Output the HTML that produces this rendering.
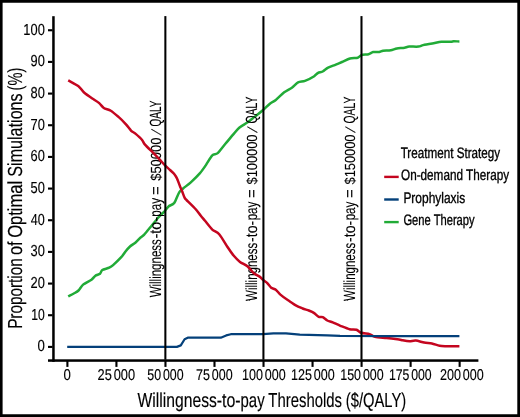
<!DOCTYPE html>
<html><head><meta charset="utf-8"><title>Proportion of Optimal Simulations</title>
<style>
html,body{margin:0;padding:0;background:#fff;overflow:hidden;}
svg{display:block;}
.t{text-rendering:geometricPrecision;font-family:"Liberation Sans",sans-serif;fill:#000;stroke:#000;}
</style></head><body>
<svg width="520" height="417" viewBox="0 0 520 417">
<rect x="0" y="0" width="520" height="417" fill="#fff"/>
<g id="gfx">
<path d="M68.2 296.3 C68.9 295.9 72.4 294.3 73.8 293.5 C75.2 292.7 77.3 291.7 78.5 290.5 C79.7 289.3 81.4 286.0 83.1 284.6 C84.8 283.2 89.9 280.9 91.5 279.7 C93.1 278.5 94.3 276.5 95.4 275.7 C96.5 274.9 99.1 274.6 100.0 273.8 C100.9 273.0 101.1 270.8 102.3 270.0 C103.5 269.2 107.8 268.4 109.2 267.7 C110.6 267.0 111.5 266.5 113.1 265.1 C114.7 263.7 119.8 258.7 121.5 256.9 C123.2 255.1 124.4 252.9 125.5 251.5 C126.6 250.1 128.7 247.7 130.0 246.5 C131.3 245.3 134.2 243.7 135.6 242.5 C137.0 241.3 139.3 238.8 140.4 237.7 C141.5 236.6 142.8 236.1 144.2 234.6 C145.6 233.1 149.3 228.5 151.2 226.2 C153.1 223.9 156.3 219.8 158.1 217.7 C159.9 215.6 163.6 212.3 165.0 210.8 C166.4 209.3 167.6 207.2 168.8 206.2 C170.0 205.2 172.8 205.0 174.2 203.1 C175.6 201.2 178.0 194.2 179.2 192.3 C180.4 190.4 181.6 189.8 183.1 188.5 C184.6 187.2 188.5 184.4 190.8 182.3 C193.1 180.2 197.9 175.5 200.0 173.1 C202.1 170.7 204.6 167.0 206.2 164.6 C207.8 162.2 210.8 156.9 212.3 155.4 C213.8 153.9 216.0 154.6 217.7 153.1 C219.4 151.6 223.3 146.3 225.4 143.8 C227.5 141.3 231.3 136.7 233.1 134.6 C234.9 132.5 237.3 129.3 239.2 127.7 C241.1 126.1 245.5 123.8 247.7 122.3 C249.9 120.8 253.3 117.8 255.4 116.2 C257.5 114.6 261.1 111.7 263.1 110.0 C265.1 108.3 268.5 104.7 270.2 103.4 C271.9 102.1 273.9 101.5 275.8 100.0 C277.7 98.5 282.1 93.9 284.2 92.3 C286.3 90.7 290.0 89.0 291.9 87.7 C293.8 86.4 296.4 83.2 298.1 82.3 C299.8 81.4 302.9 81.6 305.0 80.8 C307.1 80.0 312.5 77.3 314.2 76.2 C315.9 75.1 317.0 73.4 318.1 72.8 C319.2 72.2 321.4 72.2 322.7 71.5 C324.0 70.8 326.4 68.6 328.1 67.7 C329.8 66.8 333.9 65.4 335.8 64.6 C337.7 63.8 340.1 62.8 342.0 62.0 C343.9 61.2 347.9 59.1 350.0 58.5 C352.1 57.9 356.2 58.2 357.7 57.7 C359.2 57.2 360.1 55.6 361.5 55.1 C362.9 54.6 367.0 54.6 368.5 54.2 C370.0 53.8 371.7 52.3 373.1 52.0 C374.5 51.7 377.9 52.2 379.2 52.0 C380.5 51.8 381.6 51.0 383.1 50.8 C384.6 50.6 389.0 50.6 390.8 50.3 C392.6 50.0 395.1 48.8 396.9 48.5 C398.7 48.2 403.0 48.0 404.6 47.7 C406.2 47.4 407.3 46.7 409.2 46.6 C411.1 46.5 416.6 46.8 418.5 46.6 C420.4 46.4 421.3 45.5 423.1 45.1 C424.9 44.7 429.8 43.9 432.3 43.5 C434.8 43.1 439.0 42.0 441.5 41.8 C444.0 41.6 449.2 41.9 450.8 41.8 C452.4 41.7 452.7 41.2 453.8 41.2 C454.9 41.2 458.7 41.5 459.4 41.5" fill="none" stroke="#21ab37" stroke-width="2.50" stroke-linejoin="round" stroke-linecap="butt"/>
</g>
<text id="an0a" class="t" transform="translate(160.50 297.35) rotate(-90)" x="0" y="0" font-size="16.2" textLength="58.12" lengthAdjust="spacingAndGlyphs" stroke-width="0.1">Willingness</text>
<text id="an0b" class="t" transform="translate(160.50 238.45) rotate(-90)" x="0" y="0" font-size="16.2" textLength="21.45" lengthAdjust="spacingAndGlyphs" stroke-width="0.1">-to-</text>
<text id="an0c" class="t" transform="translate(160.50 216.75) rotate(-90)" x="0" y="0" font-size="16.2" textLength="18.74" lengthAdjust="spacingAndGlyphs" stroke-width="0.1">pay</text>
<text id="an0d" class="t" transform="translate(160.50 194.88) rotate(-90)" x="0" y="0" font-size="16.2" textLength="8.68" lengthAdjust="spacingAndGlyphs" stroke-width="0.1">=</text>
<text id="an0e" class="t" transform="translate(160.50 180.85) rotate(-90)" x="0" y="0" font-size="14.6" textLength="43.36" lengthAdjust="spacingAndGlyphs" stroke-width="0.1">$50000</text>
<text id="an0f" class="t" transform="translate(160.50 135.17) rotate(-90) skewX(-22)" x="0" y="0" font-size="13" textLength="2.36" lengthAdjust="spacingAndGlyphs" stroke-width="0.35">/</text>
<text id="an0g" class="t" transform="translate(160.50 126.50) rotate(-90)" x="0" y="0" font-size="16.2" textLength="25.97" lengthAdjust="spacingAndGlyphs" stroke-width="0.1">QALY</text>
<text id="an1a" class="t" transform="translate(257.40 300.90) rotate(-90)" x="0" y="0" font-size="16.2" textLength="58.11" lengthAdjust="spacingAndGlyphs" stroke-width="0.1">Willingness</text>
<text id="an1b" class="t" transform="translate(257.40 242.00) rotate(-90)" x="0" y="0" font-size="16.2" textLength="21.19" lengthAdjust="spacingAndGlyphs" stroke-width="0.1">-to-</text>
<text id="an1c" class="t" transform="translate(257.40 220.30) rotate(-90)" x="0" y="0" font-size="16.2" textLength="18.51" lengthAdjust="spacingAndGlyphs" stroke-width="0.1">pay</text>
<text id="an1d" class="t" transform="translate(257.40 197.88) rotate(-90)" x="0" y="0" font-size="16.2" textLength="8.68" lengthAdjust="spacingAndGlyphs" stroke-width="0.1">=</text>
<text id="an1e" class="t" transform="translate(257.40 184.50) rotate(-90)" x="0" y="0" font-size="14.6" textLength="49.92" lengthAdjust="spacingAndGlyphs" stroke-width="0.1">$100000</text>
<text id="an1f" class="t" transform="translate(257.40 132.85) rotate(-90) skewX(-22)" x="0" y="0" font-size="13" textLength="2.46" lengthAdjust="spacingAndGlyphs" stroke-width="0.35">/</text>
<text id="an1g" class="t" transform="translate(257.40 123.50) rotate(-90)" x="0" y="0" font-size="16.2" textLength="26.87" lengthAdjust="spacingAndGlyphs" stroke-width="0.1">QALY</text>
<text id="an2a" class="t" transform="translate(355.40 300.90) rotate(-90)" x="0" y="0" font-size="16.2" textLength="58.11" lengthAdjust="spacingAndGlyphs" stroke-width="0.1">Willingness</text>
<text id="an2b" class="t" transform="translate(355.40 242.00) rotate(-90)" x="0" y="0" font-size="16.2" textLength="21.19" lengthAdjust="spacingAndGlyphs" stroke-width="0.1">-to-</text>
<text id="an2c" class="t" transform="translate(355.40 220.30) rotate(-90)" x="0" y="0" font-size="16.2" textLength="18.51" lengthAdjust="spacingAndGlyphs" stroke-width="0.1">pay</text>
<text id="an2d" class="t" transform="translate(355.40 197.88) rotate(-90)" x="0" y="0" font-size="16.2" textLength="8.68" lengthAdjust="spacingAndGlyphs" stroke-width="0.1">=</text>
<text id="an2e" class="t" transform="translate(355.40 184.50) rotate(-90)" x="0" y="0" font-size="14.6" textLength="49.92" lengthAdjust="spacingAndGlyphs" stroke-width="0.1">$150000</text>
<text id="an2f" class="t" transform="translate(355.40 132.85) rotate(-90) skewX(-22)" x="0" y="0" font-size="13" textLength="2.46" lengthAdjust="spacingAndGlyphs" stroke-width="0.35">/</text>
<text id="an2g" class="t" transform="translate(355.40 123.50) rotate(-90)" x="0" y="0" font-size="16.2" textLength="26.77" lengthAdjust="spacingAndGlyphs" stroke-width="0.1">QALY</text>
<g id="gfx2">
<path d="M68.2 80.3 C69.6 81.1 76.4 84.6 78.5 86.2 C80.6 87.8 82.0 90.7 83.8 92.3 C85.6 93.9 90.2 97.1 92.3 98.5 C94.4 99.9 97.7 101.8 99.2 103.1 C100.7 104.4 102.3 107.0 103.8 108.0 C105.3 109.0 108.8 109.6 110.8 110.8 C112.8 112.0 116.4 115.1 118.5 116.9 C120.6 118.7 124.5 122.7 126.2 124.6 C127.9 126.5 130.0 129.6 131.2 130.8 C132.4 132.0 134.0 132.4 135.4 133.6 C136.8 134.8 140.6 138.2 141.9 139.7 C143.2 141.2 143.3 142.6 145.0 144.6 C146.7 146.6 152.9 152.4 155.0 154.6 C157.1 156.8 159.4 159.3 160.8 160.8 C162.2 162.3 164.6 165.0 165.8 166.2 C167.0 167.4 168.9 168.9 170.0 170.0 C171.1 171.1 173.5 173.1 174.4 174.2 C175.3 175.3 176.3 176.9 177.0 178.5 C177.7 180.1 179.3 184.5 180.0 186.2 C180.7 187.9 181.6 190.0 182.2 191.5 C182.8 193.0 184.0 196.6 184.6 197.7 C185.2 198.8 185.0 198.5 186.5 200.0 C188.0 201.5 193.6 206.9 195.5 209.0 C197.4 211.1 199.5 214.2 200.8 215.8 C202.1 217.4 203.5 219.0 205.0 220.8 C206.5 222.6 210.4 227.8 212.3 229.6 C214.2 231.4 217.1 231.8 219.2 234.2 C221.3 236.6 225.8 244.4 227.7 247.3 C229.6 250.2 232.2 253.9 233.8 255.8 C235.4 257.7 238.1 260.5 240.0 261.9 C241.9 263.3 245.9 265.0 247.7 266.5 C249.5 268.0 252.2 272.0 253.8 273.3 C255.4 274.6 258.3 275.7 259.6 276.6 C260.9 277.5 262.5 279.4 263.5 280.3 C264.5 281.2 266.3 282.1 267.3 283.1 C268.3 284.1 270.1 286.8 271.2 287.7 C272.3 288.6 274.6 288.8 275.8 289.7 C277.0 290.6 278.8 293.2 280.4 294.6 C282.0 296.0 286.0 298.9 288.1 300.3 C290.2 301.7 293.9 304.3 295.8 305.4 C297.7 306.5 301.0 307.8 302.7 308.5 C304.4 309.2 307.3 309.9 308.8 310.5 C310.3 311.1 312.9 312.2 314.2 313.1 C315.5 314.0 317.7 316.4 318.8 316.9 C319.9 317.4 321.6 316.7 322.7 317.2 C323.8 317.7 326.0 319.8 327.3 320.5 C328.6 321.2 331.0 321.6 332.7 322.3 C334.4 323.0 338.1 324.9 340.4 325.8 C342.7 326.7 347.5 328.7 349.6 329.2 C351.7 329.7 355.0 329.2 356.5 329.7 C358.0 330.2 359.5 332.2 361.2 332.8 C362.9 333.4 367.8 333.7 369.6 334.2 C371.4 334.7 372.7 336.4 375.0 336.9 C377.3 337.4 383.5 337.7 386.5 338.0 C389.5 338.3 395.1 339.0 397.3 339.3 C399.5 339.6 401.1 340.0 402.7 340.3 C404.3 340.6 407.9 341.2 409.6 341.2 C411.3 341.2 413.9 340.4 415.8 340.6 C417.7 340.8 422.1 342.2 424.2 342.6 C426.3 343.0 429.8 343.0 431.9 343.4 C434.0 343.8 437.5 345.4 439.6 345.8 C441.7 346.2 444.7 346.1 447.3 346.2 C449.9 346.3 457.8 346.2 459.4 346.2" fill="none" stroke="#c4051f" stroke-width="2.50" stroke-linejoin="round" stroke-linecap="butt"/>
<path d="M67.2 346.9 L176.9 346.9 L180.8 345.4 L184.6 339.2 L187.7 337.7 L220.8 337.7 L226.2 335.4 L230.8 334.2 L263.0 334.2 L273.4 333.4 L286.0 333.4 L299.8 334.7 L327.3 335.4 L340.0 335.8 L395.0 336.2 L459.4 336.2" fill="none" stroke="#04407a" stroke-width="2.20" stroke-linejoin="round" stroke-linecap="butt"/>
<rect x="164.34" y="16.1" width="2.05" height="343.6" fill="#000"/>
<rect x="262.40" y="16.1" width="2.05" height="343.6" fill="#000"/>
<rect x="360.46" y="16.1" width="2.05" height="343.6" fill="#000"/>
<rect x="52.2" y="16.2" width="2.5" height="345.6" fill="#000"/>
<rect x="48.0" y="359.3" width="430.4" height="2.5" fill="#000"/>
<rect x="48.0" y="345.85" width="4.5" height="2.1" fill="#000"/>
<rect x="48.0" y="314.18" width="4.5" height="2.1" fill="#000"/>
<rect x="48.0" y="282.52" width="4.5" height="2.1" fill="#000"/>
<rect x="48.0" y="250.85" width="4.5" height="2.1" fill="#000"/>
<rect x="48.0" y="219.19" width="4.5" height="2.1" fill="#000"/>
<rect x="48.0" y="187.52" width="4.5" height="2.1" fill="#000"/>
<rect x="48.0" y="155.86" width="4.5" height="2.1" fill="#000"/>
<rect x="48.0" y="124.19" width="4.5" height="2.1" fill="#000"/>
<rect x="48.0" y="92.53" width="4.5" height="2.1" fill="#000"/>
<rect x="48.0" y="60.86" width="4.5" height="2.1" fill="#000"/>
<rect x="48.0" y="29.20" width="4.5" height="2.1" fill="#000"/>
<rect x="66.35" y="361" width="2.1" height="5.9" fill="#000"/>
<rect x="115.38" y="361" width="2.1" height="5.9" fill="#000"/>
<rect x="164.41" y="361" width="2.1" height="5.9" fill="#000"/>
<rect x="213.44" y="361" width="2.1" height="5.9" fill="#000"/>
<rect x="262.47" y="361" width="2.1" height="5.9" fill="#000"/>
<rect x="311.50" y="361" width="2.1" height="5.9" fill="#000"/>
<rect x="360.53" y="361" width="2.1" height="5.9" fill="#000"/>
<rect x="409.56" y="361" width="2.1" height="5.9" fill="#000"/>
<rect x="458.59" y="361" width="2.1" height="5.9" fill="#000"/>
<rect x="384.2" y="175.70" width="14.5" height="2.4" fill="#c4051f"/>
<rect x="384.2" y="198.30" width="14.5" height="2.4" fill="#04407a"/>
<rect x="384.2" y="220.90" width="14.5" height="2.4" fill="#21ab37"/>
<path d="M0 0H520V417H0Z M2.6 2.7V414.3H517.3V2.7Z" fill="#000" fill-rule="evenodd"/>
</g>
<text id="yt0" class="t" x="37.57" y="351.25" font-size="15.9" stroke-width="0.15" textLength="7.35" lengthAdjust="spacingAndGlyphs">0</text>
<text id="yt1" class="t" x="31.35" y="319.58" font-size="15.9" stroke-width="0.15" textLength="13.52" lengthAdjust="spacingAndGlyphs">10</text>
<text id="yt2" class="t" x="30.50" y="287.92" font-size="15.9" stroke-width="0.15" textLength="14.28" lengthAdjust="spacingAndGlyphs">20</text>
<text id="yt3" class="t" x="30.50" y="256.25" font-size="15.9" stroke-width="0.15" textLength="14.28" lengthAdjust="spacingAndGlyphs">30</text>
<text id="yt4" class="t" x="30.75" y="224.59" font-size="15.9" stroke-width="0.15" textLength="14.00" lengthAdjust="spacingAndGlyphs">40</text>
<text id="yt5" class="t" x="30.50" y="192.92" font-size="15.9" stroke-width="0.15" textLength="14.28" lengthAdjust="spacingAndGlyphs">50</text>
<text id="yt6" class="t" x="30.50" y="161.26" font-size="15.9" stroke-width="0.15" textLength="14.28" lengthAdjust="spacingAndGlyphs">60</text>
<text id="yt7" class="t" x="30.50" y="129.59" font-size="15.9" stroke-width="0.15" textLength="14.28" lengthAdjust="spacingAndGlyphs">70</text>
<text id="yt8" class="t" x="30.50" y="97.93" font-size="15.9" stroke-width="0.15" textLength="14.28" lengthAdjust="spacingAndGlyphs">80</text>
<text id="yt9" class="t" x="30.50" y="66.26" font-size="15.9" stroke-width="0.15" textLength="14.28" lengthAdjust="spacingAndGlyphs">90</text>
<text id="yt10" class="t" x="23.35" y="34.60" font-size="15.9" stroke-width="0.15" textLength="21.43" lengthAdjust="spacingAndGlyphs">100</text>
<text id="xt0" class="t" x="63.58" y="379.70" font-size="15.6" stroke-width="0.15" textLength="7.35" lengthAdjust="spacingAndGlyphs">0</text>
<text id="xt1" class="t" x="97.55" y="379.70" font-size="15.6" stroke-width="0.15" textLength="37.54" lengthAdjust="spacingAndGlyphs">25<tspan dx='2.3'>000</tspan></text>
<text id="xt2" class="t" x="147.35" y="379.70" font-size="15.6" stroke-width="0.15" textLength="36.33" lengthAdjust="spacingAndGlyphs">50<tspan dx='2.3'>000</tspan></text>
<text id="xt3" class="t" x="196.10" y="379.70" font-size="15.6" stroke-width="0.15" textLength="36.59" lengthAdjust="spacingAndGlyphs">75<tspan dx='2.3'>000</tspan></text>
<text id="xt4" class="t" x="241.95" y="379.70" font-size="15.6" stroke-width="0.15" textLength="43.70" lengthAdjust="spacingAndGlyphs">100<tspan dx='2.3'>000</tspan></text>
<text id="xt5" class="t" x="290.95" y="379.70" font-size="15.6" stroke-width="0.15" textLength="43.70" lengthAdjust="spacingAndGlyphs">125<tspan dx='2.3'>000</tspan></text>
<text id="xt6" class="t" x="340.25" y="379.70" font-size="15.6" stroke-width="0.15" textLength="43.44" lengthAdjust="spacingAndGlyphs">150<tspan dx='2.3'>000</tspan></text>
<text id="xt7" class="t" x="388.90" y="379.70" font-size="15.6" stroke-width="0.15" textLength="42.79" lengthAdjust="spacingAndGlyphs">175<tspan dx='2.3'>000</tspan></text>
<text id="xt8" class="t" x="439.95" y="379.70" font-size="15.6" stroke-width="0.15" textLength="43.72" lengthAdjust="spacingAndGlyphs">200<tspan dx='2.3'>000</tspan></text>
<text id="xlab0" class="t" x="137.55" y="407.40" font-size="20.2" stroke-width="0.15" textLength="79.36" lengthAdjust="spacingAndGlyphs">Willingness</text>
<text id="xlab1" class="t" x="216.70" y="407.40" font-size="20.2" stroke-width="0.15" textLength="23.89" lengthAdjust="spacingAndGlyphs">-to-</text>
<text id="xlab2" class="t" x="240.50" y="407.40" font-size="20.2" stroke-width="0.15" textLength="24.11" lengthAdjust="spacingAndGlyphs">pay</text>
<text id="xlab3" class="t" x="268.35" y="407.40" font-size="20.2" stroke-width="0.15" textLength="73.66" lengthAdjust="spacingAndGlyphs">Thresholds</text>
<text id="xlab4" class="t" x="345.85" y="407.40" font-size="20.2" stroke-width="0.15" textLength="60.40" lengthAdjust="spacingAndGlyphs">($/QALY)</text>
<text id="ylab0" class="t" transform="translate(21.60 328.85) rotate(-90)" x="0" y="0" font-size="20.3" textLength="70.52" lengthAdjust="spacingAndGlyphs" stroke-width="0.15">Proportion</text>
<text id="ylab1" class="t" transform="translate(21.60 254.95) rotate(-90)" x="0" y="0" font-size="20.3" textLength="13.61" lengthAdjust="spacingAndGlyphs" stroke-width="0.15">of</text>
<text id="ylab2" class="t" transform="translate(21.60 237.80) rotate(-90)" x="0" y="0" font-size="20.3" textLength="56.93" lengthAdjust="spacingAndGlyphs" stroke-width="0.15">Optimal</text>
<text id="ylab3" class="t" transform="translate(21.60 176.70) rotate(-90)" x="0" y="0" font-size="20.3" textLength="83.33" lengthAdjust="spacingAndGlyphs" stroke-width="0.15">Simulations</text>
<text id="ylab4" class="t" transform="translate(21.60 90.50) rotate(-90)" x="0" y="0" font-size="20.3" textLength="22.78" lengthAdjust="spacingAndGlyphs" stroke-width="0.15">(%)</text>
<text id="lg0" class="t" x="400.65" y="158.20" font-size="15.2" stroke-width="0.35" textLength="99.50" lengthAdjust="spacingAndGlyphs">Treatment Strategy</text>
<text id="lg1" class="t" x="401.00" y="180.30" font-size="15.2" stroke-width="0.35" textLength="108.10" lengthAdjust="spacingAndGlyphs">On-demand Therapy</text>
<text id="lg2" class="t" x="403.40" y="203.10" font-size="15.2" stroke-width="0.35" textLength="61.78" lengthAdjust="spacingAndGlyphs">Prophylaxis</text>
<text id="lg3" class="t" x="403.40" y="225.40" font-size="15.2" stroke-width="0.35" textLength="71.26" lengthAdjust="spacingAndGlyphs">Gene Therapy</text>
</svg></body></html>
